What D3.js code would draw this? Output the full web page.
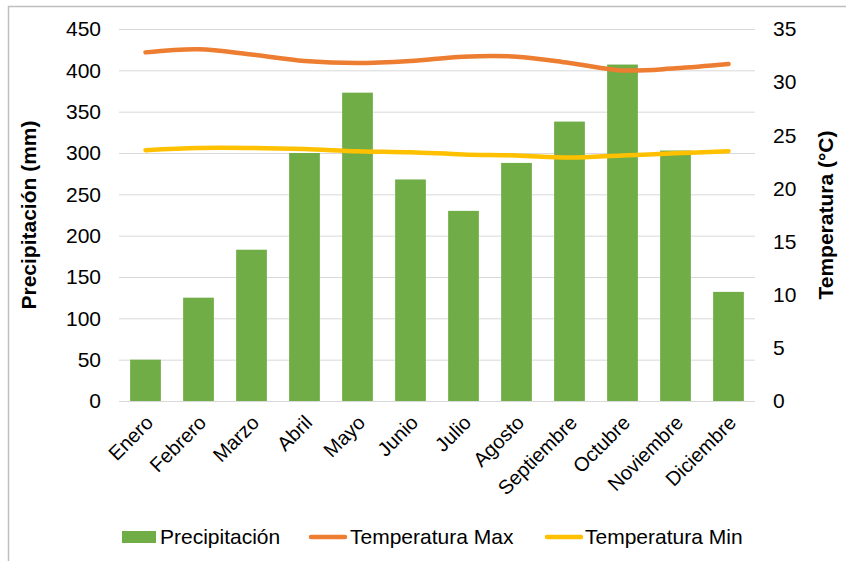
<!DOCTYPE html>
<html>
<head>
<meta charset="utf-8">
<script src="https://cdn.jsdelivr.net/npm/d3@7"></script>
<style>
  html, body { margin: 0; padding: 0; background: #fff; }
  svg { display: block; font-family: "Liberation Sans", Arial, sans-serif; }
</style>
</head>
<body>
<svg id="chart" width="846" height="561"></svg>
<script>
const months = ["Enero","Febrero","Marzo","Abril","Mayo","Junio","Julio","Agosto","Septiembre","Octubre","Noviembre","Diciembre"];
const precipitacion = [50, 125, 183, 300, 373, 268, 230, 288, 338, 407, 303, 132];
const tempMax = [32.8, 33.1, 32.6, 32.0, 31.8, 32.0, 32.4, 32.4, 31.8, 31.1, 31.3, 31.7];
const tempMin = [23.6, 23.8, 23.8, 23.7, 23.5, 23.4, 23.2, 23.1, 22.9, 23.1, 23.3, 23.5];
const leftTicks = [0, 50, 100, 150, 200, 250, 300, 350, 400, 450];
const rightTicks = [0, 5, 10, 15, 20, 25, 30, 35];

const svg = d3.select("#chart");
const plot = { left: 119, right: 755, top: 29, bottom: 401 };

// chart border
svg.append("rect").attr("x", 8.5).attr("y", 6.5).attr("width", 850).attr("height", 570)
  .attr("fill", "none").attr("stroke", "#BFBFBF").attr("stroke-width", 1.5);

const x = d3.scaleBand().domain(months).range([plot.left, plot.right])
  .paddingInner(0.42).paddingOuter(0.21);
const yL = d3.scaleLinear().domain([0, 450]).range([plot.bottom, plot.top]);
const yR = d3.scaleLinear().domain([0, 35]).range([plot.bottom, plot.top]);

// gridlines
svg.append("g").selectAll("line").data(leftTicks).join("line")
  .attr("x1", plot.left).attr("x2", plot.right)
  .attr("y1", d => yL(d) + 0.5).attr("y2", d => yL(d) + 0.5)
  .attr("stroke", "#D9D9D9").attr("stroke-width", 1);

// left axis
const gL = svg.append("g").attr("transform", `translate(${plot.left - 18},0)`)
  .call(d3.axisLeft(yL).tickValues(leftTicks).tickSize(0).tickPadding(0));
gL.select(".domain").remove();
gL.selectAll("text").attr("font-size", 21).attr("fill", "#000").attr("font-family", "Liberation Sans, Arial, sans-serif");

// right axis
const gR = svg.append("g").attr("transform", `translate(${plot.right + 18},0)`)
  .call(d3.axisRight(yR).tickValues(rightTicks).tickSize(0).tickPadding(0));
gR.select(".domain").remove();
gR.selectAll("text").attr("font-size", 21).attr("fill", "#000").attr("font-family", "Liberation Sans, Arial, sans-serif");

// bars
svg.append("g").selectAll("rect").data(precipitacion).join("rect")
  .attr("x", (d, i) => x(months[i]))
  .attr("width", x.bandwidth())
  .attr("y", d => yL(d))
  .attr("height", d => yL(0) - yL(d))
  .attr("fill", "#70AD47");

// lines
const line = d3.line()
  .x((d, i) => x(months[i]) + x.bandwidth() / 2)
  .y(d => yR(d))
  .curve(d3.curveCatmullRom.alpha(0.5));

svg.append("path").datum(tempMax).attr("d", line)
  .attr("fill", "none").attr("stroke", "#ED7D31").attr("stroke-width", 4.5).attr("stroke-linecap", "round");
svg.append("path").datum(tempMin).attr("d", line)
  .attr("fill", "none").attr("stroke", "#FFC000").attr("stroke-width", 4.5).attr("stroke-linecap", "round");

// x labels
svg.append("g").selectAll("text").data(months).join("text")
  .attr("transform", d => `translate(${x(d) + x.bandwidth() / 2 + 4},${plot.bottom + 18}) rotate(-45)`)
  .attr("text-anchor", "end")
  .attr("dy", "0.35em")
  .attr("font-size", 20)
  .attr("fill", "#000")
  .text(d => d);

// axis titles
svg.append("text")
  .attr("transform", `translate(36,${(plot.top + plot.bottom) / 2}) rotate(-90)`)
  .attr("text-anchor", "middle")
  .attr("font-size", 21).attr("font-weight", "bold").attr("fill", "#000")
  .text("Precipitación (mm)");
svg.append("text")
  .attr("transform", `translate(833,${(plot.top + plot.bottom) / 2}) rotate(-90)`)
  .attr("text-anchor", "middle")
  .attr("font-size", 21).attr("font-weight", "bold").attr("fill", "#000")
  .text("Temperatura (°C)");

// legend
const legend = svg.append("g");
const legY = 537;
legend.append("rect").attr("x", 122).attr("y", legY - 6).attr("width", 34).attr("height", 12).attr("fill", "#70AD47");
legend.append("text").attr("x", 160).attr("y", legY).attr("dy", "0.35em").attr("font-size", 21).text("Precipitación");
legend.append("line").attr("x1", 311).attr("x2", 345).attr("y1", legY).attr("y2", legY)
  .attr("stroke", "#ED7D31").attr("stroke-width", 4.5).attr("stroke-linecap", "round");
legend.append("text").attr("x", 350).attr("y", legY).attr("dy", "0.35em").attr("font-size", 21).text("Temperatura Max");
legend.append("line").attr("x1", 547).attr("x2", 581).attr("y1", legY).attr("y2", legY)
  .attr("stroke", "#FFC000").attr("stroke-width", 4.5).attr("stroke-linecap", "round");
legend.append("text").attr("x", 585).attr("y", legY).attr("dy", "0.35em").attr("font-size", 21).text("Temperatura Min");
</script>
</body>
</html>
